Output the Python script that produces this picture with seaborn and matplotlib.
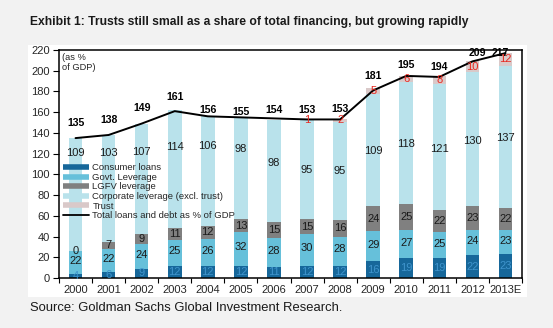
import numpy as np
import pandas as pd
import matplotlib
matplotlib.use("Agg")
import matplotlib.pyplot as plt
import seaborn as sns
from matplotlib.lines import Line2D
from matplotlib.patches import Rectangle

# ---- data (% of GDP) ----
years = ["2000", "2001", "2002", "2003", "2004", "2005", "2006",
         "2007", "2008", "2009", "2010", "2011", "2012", "2013E"]
consumer = [4, 6, 9, 12, 12, 12, 11, 12, 12, 16, 19, 19, 22, 23]
govt = [22, 22, 24, 25, 26, 32, 28, 30, 28, 29, 27, 25, 24, 23]
lgfv = [0, 7, 9, 11, 12, 13, 15, 15, 16, 24, 25, 22, 23, 22]
corporate = [109, 103, 107, 114, 106, 98, 98, 95, 95, 109, 118, 121, 130, 137]
trust = [0, 0, 0, 0, 0, 0, 0, 1, 2, 5, 6, 8, 10, 12]
total = [135, 138, 149, 161, 156, 155, 154, 153, 153, 181, 195, 194, 209, 217]

series_names = ["Consumer loans", "Govt. Leverage", "LGFV leverage",
                "Corporate leverage (excl. trust)", "Trust"]
line_name = "Total loans and debt as % of GDP"

# ---- label placement ----
corp_label_y = [121, 121, 122, 126, 127, 124.5, 111, 104, 103, 122.5, 129, 124.5, 132, 135]
total_label_y = [150, 152.5, 164, 175, 162, 160, 162, 162, 163, 195, 205.5, 204, 217, 217]
total_label_dx = [0] * 12 + [0.16, -0.16]

colors = ["#16679a", "#66c0da", "#808080", "#b9e2eb", "#d9c9c9"]
label_colors = ["#3f94cc", "#1a1a1a", "#1a1a1a", "#1a1a1a", "#e8281f"]

sns.set_theme(style="white")
plt.rcParams["font.family"] = ["Liberation Sans", "DejaVu Sans"]

W, H = 553, 328
fig = plt.figure(figsize=(W / 100, H / 100), dpi=100, facecolor="#f2f2f2")
fig.add_artist(Rectangle((28 / W, 31 / H), 499 / W, 252 / H, transform=fig.transFigure,
                         facecolor="white", edgecolor="none", zorder=-1))
ax = fig.add_axes([59 / W, 50 / H, 463 / W, 228 / H])

df = pd.DataFrame({"year": years, "consumer": consumer, "govt": govt,
                   "lgfv": lgfv, "corporate": corporate, "trust": trust})
cols = ["consumer", "govt", "lgfv", "corporate", "trust"]
cum = df[cols].cumsum(axis=1)
cum["year"] = years

# stacked bars: draw cumulative heights from the top layer down
for col, color in reversed(list(zip(cols, colors))):
    sns.barplot(data=cum, x="year", y=col, color=color, saturation=1,
                width=0.41, errorbar=None, edgecolor="none", ax=ax, zorder=2)

# total line
sns.lineplot(x=np.arange(len(years)), y=total, color="black", linewidth=1.4,
             ax=ax, zorder=4, legend=False)

# segment labels
x = np.arange(len(years))
bottoms = np.zeros(len(years))
for i, col in enumerate(cols):
    vals = np.array(df[col], dtype=float)
    for j in range(len(years)):
        v = vals[j]
        if col == "trust" and v == 0:
            continue
        if col == "corporate":
            y = corp_label_y[j]
        elif col == "govt":
            y = bottoms[j] + v / 2 + 1.5
        else:
            y = bottoms[j] + v / 2
        ax.text(x[j], y, f"{int(v)}", ha="center", va="center",
                fontsize=8, color=label_colors[i], zorder=5)
    bottoms += vals

for j, t in enumerate(total):
    ax.text(x[j] + total_label_dx[j], total_label_y[j], f"{t}", ha="center",
            va="center", fontsize=7.6, fontweight="bold", color="black", zorder=6)

ax.text(0.006, 0.985, "(as %\nof GDP)", transform=ax.transAxes, ha="left",
        va="top", fontsize=6.7, linespacing=1.05)

# axes styling
ax.set_xlim(-0.5, len(years) - 0.5)
ax.set_ylim(0, 220)
ax.set_yticks(np.arange(0, 221, 20))
ax.set_xlabel("")
ax.set_ylabel("")
ax.set_xticks(np.arange(-0.5, len(years), 1), minor=True)
ax.tick_params(axis="y", which="major", left=True, direction="out", length=4.5,
               width=0.8, color="black", labelsize=8, pad=2)
ax.tick_params(axis="x", which="major", bottom=True, length=0, labelsize=8, pad=5)
ax.tick_params(axis="x", which="minor", bottom=True, direction="out", length=3.5,
               width=0.8, color="black")
for s in ax.spines.values():
    s.set_color("black")
    s.set_linewidth(1.1)
ax.set_facecolor("none")

handles = [Line2D([0], [0], color=c, lw=4, solid_capstyle="butt") for c in colors]
handles.append(Line2D([0], [0], color="black", lw=1.3))
ax.legend(handles, series_names + [line_name], loc="upper left",
          bbox_to_anchor=(0.008, 0.503), frameon=False, fontsize=6.8,
          handlelength=2.8, handletextpad=0.35, labelspacing=0.06,
          borderpad=0, borderaxespad=0)

fig.text(30 / W, 1 - 21.5 / H,
         "Exhibit 1: Trusts still small as a share of total financing, but growing rapidly",
         fontsize=8.7, fontweight="bold", ha="left", va="center", color="#1a1a1a")
fig.text(30 / W, 1 - 308 / H, "Source: Goldman Sachs Global Investment Research.",
         fontsize=9.4, ha="left", va="center", color="#1a1a1a")

fig.savefig("out.png", dpi=100, facecolor=fig.get_facecolor())
